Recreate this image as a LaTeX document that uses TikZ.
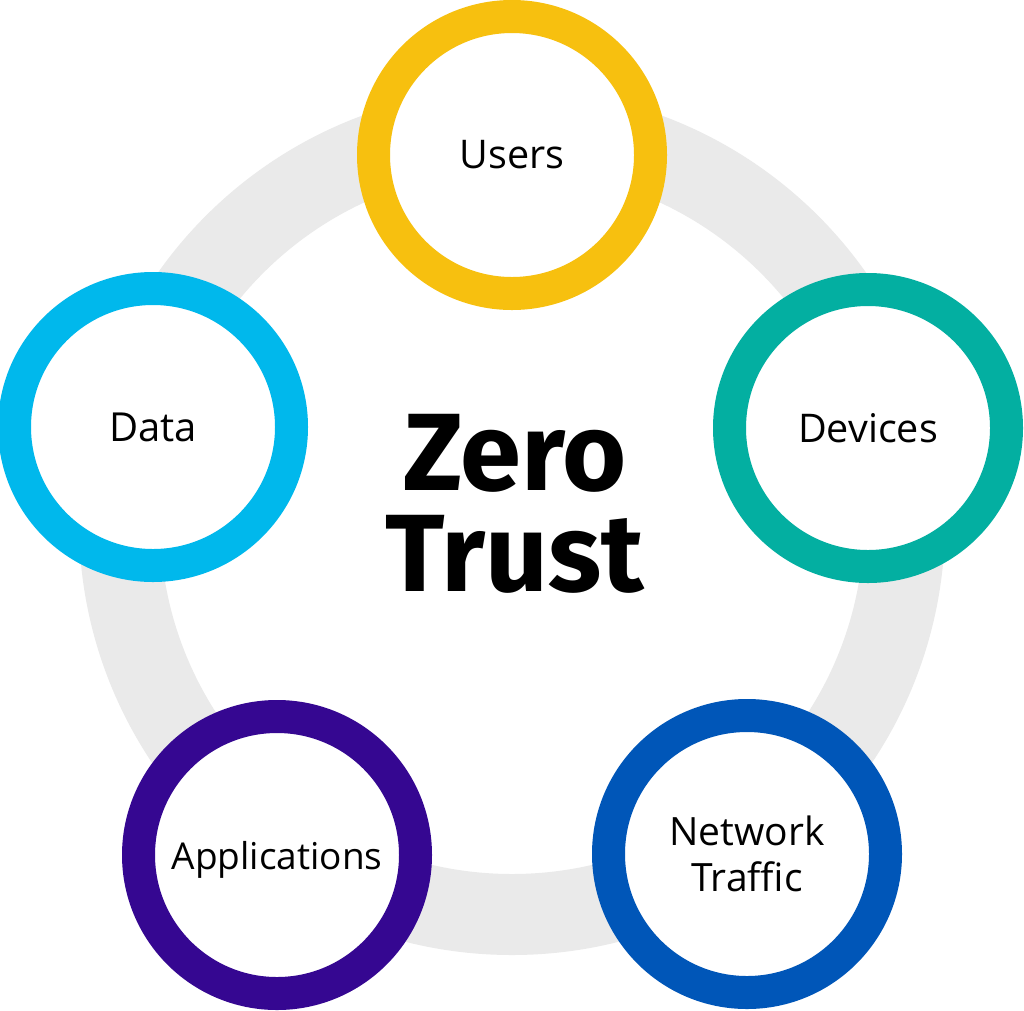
\documentclass[tikz,border=0pt]{standalone}
\usepackage{fontspec}
\setmainfont{Open Sans}
\newfontfamily\titlefont{Fira Sans}
\definecolor{ringgrey}{HTML}{EAEAEA}
\definecolor{cusers}{HTML}{F7C00F}
\definecolor{cdevices}{HTML}{03AFA1}
\definecolor{cdata}{HTML}{00B8EC}
\definecolor{cnet}{HTML}{0056B8}
\definecolor{capps}{HTML}{350791}
\begin{document}
\begin{tikzpicture}[x=1pt,y=-1pt,
  ringnode/.style={circle, draw=#1, line width=33pt, fill=white,
    minimum size=277pt, inner sep=0pt, align=center,
    font=\fontsize{39}{46}\selectfont, text=black}]
\useasboundingbox (0,0) rectangle (1024,1010);
\fill[white] (0,0) rectangle (1024,1010);
\draw[ringgrey, line width=81pt] (512,522) circle[radius=392.5];
\node[ringnode=cusers, font=\fontsize{39.5}{46}\selectfont] (users) at (512,155) {Users};
\node[ringnode=cdata, font=\fontsize{40}{46}\selectfont] (data) at (153,427) {Data};
\node[ringnode=cdevices, font=\fontsize{39.5}{46}\selectfont] (devices) at (868,428) {Devices};
\node[ringnode=capps, font=\fontsize{37}{46}\selectfont, text depth=0pt] (apps) at (277,855) {Applications};
\node[ringnode=cnet] (net) at (747,854) {Network\\Traffic};
\node[align=center, font=\titlefont\bfseries\fontsize{110}{101}\selectfont] (zt) at (515,504) {Zero\\Trust};
\end{tikzpicture}
\end{document}
